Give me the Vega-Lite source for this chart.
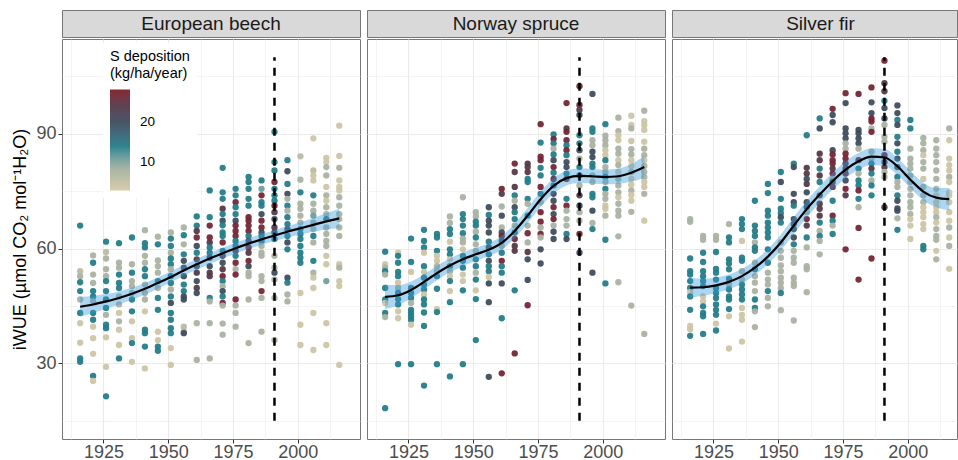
{
"$schema":"https://vega.github.io/schema/vega-lite/v6.json",
"background":"white",
"padding":{"left":11,"top":9,"right":0,"bottom":0},
"config":{
 "font":"Liberation Sans",
 "view":{"stroke":"#777777","strokeWidth":1},
 "axis":{"labelFont":"Liberation Sans","labelFontSize":18,"labelColor":"#4D4D4D","tickColor":"#333333","tickSize":4,"labelPadding":0,"domain":false,"gridColor":"#EBEBEB","titleFont":"Liberation Sans","titleFontSize":18,"titleFontWeight":"normal","titleColor":"#000000","labelOverlap":false,"labelFlush":false}
},
"datasets":{
"pts":[
{"p":"B","x":1916,"y":66,"s":14},{"p":"B","x":1916,"y":54.1,"s":6},{"p":"B","x":1916,"y":52.8,"s":8},{"p":"B","x":1916,"y":51.2,"s":14},{"p":"B","x":1916,"y":48.9,"s":14},{"p":"B","x":1916,"y":46.7,"s":8},{"p":"B","x":1916,"y":43.2,"s":14},{"p":"B","x":1916,"y":40.5,"s":4},{"p":"B","x":1916,"y":35.4,"s":4},{"p":"B","x":1916,"y":31.3,"s":14},{"p":"B","x":1916,"y":30.4,"s":14},
{"p":"B","x":1921,"y":58.2,"s":8},{"p":"B","x":1921,"y":56.3,"s":14},{"p":"B","x":1921,"y":53.2,"s":8},{"p":"B","x":1921,"y":51,"s":8},{"p":"B","x":1921,"y":48.9,"s":14},{"p":"B","x":1921,"y":47.5,"s":14},{"p":"B","x":1921,"y":46.2,"s":8},{"p":"B","x":1921,"y":43.2,"s":14},{"p":"B","x":1921,"y":41.4,"s":14},{"p":"B","x":1921,"y":39.6,"s":4},{"p":"B","x":1921,"y":36.6,"s":4},{"p":"B","x":1921,"y":32.5,"s":4},{"p":"B","x":1921,"y":26.7,"s":14},{"p":"B","x":1921,"y":25.4,"s":4},
{"p":"B","x":1926,"y":61.8,"s":14},{"p":"B","x":1926,"y":59.1,"s":6},{"p":"B","x":1926,"y":57.4,"s":8},{"p":"B","x":1926,"y":54.6,"s":8},{"p":"B","x":1926,"y":52.8,"s":8},{"p":"B","x":1926,"y":51.5,"s":14},{"p":"B","x":1926,"y":48.9,"s":14},{"p":"B","x":1926,"y":46.7,"s":14},{"p":"B","x":1926,"y":44.5,"s":14},{"p":"B","x":1926,"y":42.7,"s":8},{"p":"B","x":1926,"y":40.1,"s":14},{"p":"B","x":1926,"y":39.2,"s":14},{"p":"B","x":1926,"y":36.8,"s":4},{"p":"B","x":1926,"y":29.1,"s":4},{"p":"B","x":1926,"y":21.4,"s":14},
{"p":"B","x":1931,"y":61.4,"s":14},{"p":"B","x":1931,"y":56.3,"s":8},{"p":"B","x":1931,"y":55,"s":8},{"p":"B","x":1931,"y":53.2,"s":14},{"p":"B","x":1931,"y":51,"s":14},{"p":"B","x":1931,"y":49.7,"s":14},{"p":"B","x":1931,"y":47.5,"s":8},{"p":"B","x":1931,"y":45.4,"s":8},{"p":"B","x":1931,"y":43.2,"s":4},{"p":"B","x":1931,"y":41,"s":8},{"p":"B","x":1931,"y":38.8,"s":4},{"p":"B","x":1931,"y":34.8,"s":4},{"p":"B","x":1931,"y":31.3,"s":14},
{"p":"B","x":1936,"y":62.9,"s":14},{"p":"B","x":1936,"y":55.9,"s":8},{"p":"B","x":1936,"y":53.7,"s":14},{"p":"B","x":1936,"y":51.5,"s":8},{"p":"B","x":1936,"y":50.2,"s":8},{"p":"B","x":1936,"y":48.4,"s":8},{"p":"B","x":1936,"y":46.7,"s":14},{"p":"B","x":1936,"y":43.6,"s":14},{"p":"B","x":1936,"y":41,"s":4},{"p":"B","x":1936,"y":36.6,"s":4},{"p":"B","x":1936,"y":35.3,"s":14},{"p":"B","x":1936,"y":30.4,"s":4},
{"p":"B","x":1941,"y":64.8,"s":8},{"p":"B","x":1941,"y":61.4,"s":14},{"p":"B","x":1941,"y":60.3,"s":14},{"p":"B","x":1941,"y":58.1,"s":8},{"p":"B","x":1941,"y":56.3,"s":8},{"p":"B","x":1941,"y":54.6,"s":14},{"p":"B","x":1941,"y":52.8,"s":14},{"p":"B","x":1941,"y":50.6,"s":8},{"p":"B","x":1941,"y":48.4,"s":8},{"p":"B","x":1941,"y":46.7,"s":8},{"p":"B","x":1941,"y":43.6,"s":4},{"p":"B","x":1941,"y":38.8,"s":14},{"p":"B","x":1941,"y":37.9,"s":14},{"p":"B","x":1941,"y":34.4,"s":14},{"p":"B","x":1941,"y":28.7,"s":4},
{"p":"B","x":1946,"y":63.1,"s":8},{"p":"B","x":1946,"y":61.1,"s":14},{"p":"B","x":1946,"y":56.9,"s":8},{"p":"B","x":1946,"y":55.4,"s":8},{"p":"B","x":1946,"y":53.7,"s":8},{"p":"B","x":1946,"y":51.5,"s":14},{"p":"B","x":1946,"y":49.7,"s":8},{"p":"B","x":1946,"y":47.1,"s":14},{"p":"B","x":1946,"y":44,"s":14},{"p":"B","x":1946,"y":38.3,"s":4},{"p":"B","x":1946,"y":36.1,"s":4},{"p":"B","x":1946,"y":34.4,"s":14},{"p":"B","x":1946,"y":33.3,"s":14},
{"p":"B","x":1951,"y":64.2,"s":8},{"p":"B","x":1951,"y":62.6,"s":14},{"p":"B","x":1951,"y":60.7,"s":14},{"p":"B","x":1951,"y":58.9,"s":8},{"p":"B","x":1951,"y":57.4,"s":14},{"p":"B","x":1951,"y":55.9,"s":14},{"p":"B","x":1951,"y":54.6,"s":8},{"p":"B","x":1951,"y":52.8,"s":14},{"p":"B","x":1951,"y":51,"s":14},{"p":"B","x":1951,"y":49.3,"s":8},{"p":"B","x":1951,"y":47.5,"s":14},{"p":"B","x":1951,"y":45.8,"s":20},{"p":"B","x":1951,"y":43.2,"s":14},{"p":"B","x":1951,"y":41.4,"s":14},{"p":"B","x":1951,"y":39.2,"s":14},{"p":"B","x":1951,"y":37.9,"s":14},{"p":"B","x":1951,"y":34,"s":4},{"p":"B","x":1951,"y":29.6,"s":4},
{"p":"B","x":1956,"y":65.5,"s":8},{"p":"B","x":1956,"y":63.5,"s":14},{"p":"B","x":1956,"y":61.1,"s":8},{"p":"B","x":1956,"y":58.5,"s":14},{"p":"B","x":1956,"y":56.8,"s":20},{"p":"B","x":1956,"y":55,"s":20},{"p":"B","x":1956,"y":52.8,"s":20},{"p":"B","x":1956,"y":50.6,"s":14},{"p":"B","x":1956,"y":48.9,"s":14},{"p":"B","x":1956,"y":47.5,"s":20},{"p":"B","x":1956,"y":46.7,"s":20},{"p":"B","x":1956,"y":39.6,"s":6},{"p":"B","x":1956,"y":38.3,"s":8},{"p":"B","x":1956,"y":37.9,"s":20},
{"p":"B","x":1961,"y":68.4,"s":14},{"p":"B","x":1961,"y":66,"s":14},{"p":"B","x":1961,"y":64.6,"s":24},{"p":"B","x":1961,"y":62.9,"s":27},{"p":"B","x":1961,"y":60.7,"s":20},{"p":"B","x":1961,"y":58.9,"s":14},{"p":"B","x":1961,"y":57.2,"s":24},{"p":"B","x":1961,"y":55.4,"s":20},{"p":"B","x":1961,"y":53.7,"s":24},{"p":"B","x":1961,"y":51.5,"s":20},{"p":"B","x":1961,"y":49.7,"s":24},{"p":"B","x":1961,"y":48.4,"s":20},{"p":"B","x":1961,"y":40.5,"s":8},{"p":"B","x":1961,"y":30.9,"s":8},
{"p":"B","x":1966,"y":75.2,"s":14},{"p":"B","x":1966,"y":68.2,"s":14},{"p":"B","x":1966,"y":66,"s":27},{"p":"B","x":1966,"y":62.9,"s":27},{"p":"B","x":1966,"y":61.6,"s":24},{"p":"B","x":1966,"y":60.3,"s":14},{"p":"B","x":1966,"y":58.9,"s":14},{"p":"B","x":1966,"y":57.6,"s":20},{"p":"B","x":1966,"y":55.4,"s":20},{"p":"B","x":1966,"y":53.7,"s":24},{"p":"B","x":1966,"y":52.8,"s":24},{"p":"B","x":1966,"y":47.1,"s":14},{"p":"B","x":1966,"y":46.2,"s":8},{"p":"B","x":1966,"y":40.5,"s":8},{"p":"B","x":1966,"y":31.3,"s":8},
{"p":"B","x":1971,"y":81.1,"s":14},{"p":"B","x":1971,"y":74.7,"s":14},{"p":"B","x":1971,"y":73,"s":14},{"p":"B","x":1971,"y":70.4,"s":24},{"p":"B","x":1971,"y":69,"s":14},{"p":"B","x":1971,"y":67.3,"s":20},{"p":"B","x":1971,"y":66.1,"s":14},{"p":"B","x":1971,"y":64.2,"s":14},{"p":"B","x":1971,"y":63.3,"s":14},{"p":"B","x":1971,"y":61.6,"s":27},{"p":"B","x":1971,"y":59.4,"s":14},{"p":"B","x":1971,"y":58.1,"s":24},{"p":"B","x":1971,"y":56.3,"s":20},{"p":"B","x":1971,"y":54.6,"s":24},{"p":"B","x":1971,"y":52.8,"s":27},{"p":"B","x":1971,"y":51.5,"s":14},{"p":"B","x":1971,"y":50.2,"s":8},{"p":"B","x":1971,"y":48.9,"s":20},{"p":"B","x":1971,"y":47.5,"s":14},{"p":"B","x":1971,"y":45.8,"s":27},{"p":"B","x":1971,"y":45.1,"s":8},{"p":"B","x":1971,"y":40.4,"s":8},{"p":"B","x":1971,"y":37.5,"s":8},
{"p":"B","x":1976,"y":75.6,"s":14},{"p":"B","x":1976,"y":73.9,"s":14},{"p":"B","x":1976,"y":72.1,"s":27},{"p":"B","x":1976,"y":70.8,"s":14},{"p":"B","x":1976,"y":69,"s":14},{"p":"B","x":1976,"y":67.3,"s":20},{"p":"B","x":1976,"y":66,"s":27},{"p":"B","x":1976,"y":64.6,"s":27},{"p":"B","x":1976,"y":63.3,"s":27},{"p":"B","x":1976,"y":62,"s":14},{"p":"B","x":1976,"y":60.7,"s":14},{"p":"B","x":1976,"y":59.4,"s":24},{"p":"B","x":1976,"y":58.1,"s":14},{"p":"B","x":1976,"y":56.3,"s":27},{"p":"B","x":1976,"y":54.6,"s":8},{"p":"B","x":1976,"y":53.2,"s":27},{"p":"B","x":1976,"y":46.7,"s":27},{"p":"B","x":1976,"y":45.1,"s":8},{"p":"B","x":1976,"y":43.2,"s":8},{"p":"B","x":1976,"y":39.6,"s":8},
{"p":"B","x":1981,"y":78.7,"s":14},{"p":"B","x":1981,"y":77.4,"s":14},{"p":"B","x":1981,"y":75.6,"s":14},{"p":"B","x":1981,"y":73,"s":14},{"p":"B","x":1981,"y":71.2,"s":14},{"p":"B","x":1981,"y":68.2,"s":27},{"p":"B","x":1981,"y":67.3,"s":27},{"p":"B","x":1981,"y":66,"s":27},{"p":"B","x":1981,"y":64.6,"s":27},{"p":"B","x":1981,"y":63.3,"s":14},{"p":"B","x":1981,"y":62,"s":20},{"p":"B","x":1981,"y":60.3,"s":27},{"p":"B","x":1981,"y":58.9,"s":24},{"p":"B","x":1981,"y":56.8,"s":27},{"p":"B","x":1981,"y":55.4,"s":20},{"p":"B","x":1981,"y":53.7,"s":8},{"p":"B","x":1981,"y":52.8,"s":8},{"p":"B","x":1981,"y":46.7,"s":8},{"p":"B","x":1981,"y":35.3,"s":8},
{"p":"B","x":1986,"y":77.8,"s":14},{"p":"B","x":1986,"y":75.6,"s":11},{"p":"B","x":1986,"y":73.9,"s":27},{"p":"B","x":1986,"y":72.1,"s":14},{"p":"B","x":1986,"y":71.2,"s":14},{"p":"B","x":1986,"y":69,"s":20},{"p":"B","x":1986,"y":67.3,"s":27},{"p":"B","x":1986,"y":65.5,"s":27},{"p":"B","x":1986,"y":64.2,"s":20},{"p":"B","x":1986,"y":63.3,"s":14},{"p":"B","x":1986,"y":62,"s":14},{"p":"B","x":1986,"y":60.7,"s":8},{"p":"B","x":1986,"y":58.9,"s":8},{"p":"B","x":1986,"y":58.1,"s":8},{"p":"B","x":1986,"y":52.8,"s":8},{"p":"B","x":1986,"y":51.5,"s":8},{"p":"B","x":1986,"y":48.9,"s":27},{"p":"B","x":1986,"y":47.1,"s":8},{"p":"B","x":1986,"y":38.3,"s":8},
{"p":"B","x":1991,"y":90.5,"s":14},{"p":"B","x":1991,"y":82.6,"s":14},{"p":"B","x":1991,"y":80.4,"s":14},{"p":"B","x":1991,"y":77.4,"s":27},{"p":"B","x":1991,"y":75.6,"s":14},{"p":"B","x":1991,"y":73.9,"s":14},{"p":"B","x":1991,"y":72.5,"s":14},{"p":"B","x":1991,"y":71.2,"s":27},{"p":"B","x":1991,"y":69.5,"s":24},{"p":"B","x":1991,"y":67.7,"s":20},{"p":"B","x":1991,"y":65.5,"s":24},{"p":"B","x":1991,"y":64.2,"s":20},{"p":"B","x":1991,"y":62.5,"s":14},{"p":"B","x":1991,"y":58.1,"s":8},{"p":"B","x":1991,"y":55,"s":8},{"p":"B","x":1991,"y":53.7,"s":20},{"p":"B","x":1991,"y":51.9,"s":8},{"p":"B","x":1991,"y":47.1,"s":8},{"p":"B","x":1991,"y":36.1,"s":8},
{"p":"B","x":1996,"y":83.1,"s":14},{"p":"B","x":1996,"y":80.2,"s":20},{"p":"B","x":1996,"y":76.9,"s":14},{"p":"B","x":1996,"y":74.3,"s":20},{"p":"B","x":1996,"y":73,"s":8},{"p":"B","x":1996,"y":71.2,"s":14},{"p":"B","x":1996,"y":69.9,"s":8},{"p":"B","x":1996,"y":68.2,"s":14},{"p":"B","x":1996,"y":66.4,"s":14},{"p":"B","x":1996,"y":65.1,"s":20},{"p":"B","x":1996,"y":63.3,"s":14},{"p":"B","x":1996,"y":61.6,"s":20},{"p":"B","x":1996,"y":59.8,"s":14},{"p":"B","x":1996,"y":52.4,"s":20},{"p":"B","x":1996,"y":51.1,"s":14},{"p":"B","x":1996,"y":48,"s":8},{"p":"B","x":1996,"y":46.2,"s":8},
{"p":"B","x":2001,"y":84.1,"s":6},{"p":"B","x":2001,"y":78,"s":8},{"p":"B","x":2001,"y":74.7,"s":14},{"p":"B","x":2001,"y":71.7,"s":8},{"p":"B","x":2001,"y":70.4,"s":8},{"p":"B","x":2001,"y":68.6,"s":8},{"p":"B","x":2001,"y":66.8,"s":8},{"p":"B","x":2001,"y":65.1,"s":14},{"p":"B","x":2001,"y":63.8,"s":14},{"p":"B","x":2001,"y":62.5,"s":14},{"p":"B","x":2001,"y":60.7,"s":14},{"p":"B","x":2001,"y":58.9,"s":14},{"p":"B","x":2001,"y":57.6,"s":14},{"p":"B","x":2001,"y":56.3,"s":14},{"p":"B","x":2001,"y":48.4,"s":4},{"p":"B","x":2001,"y":40.1,"s":4},{"p":"B","x":2001,"y":34.8,"s":4},
{"p":"B","x":2006,"y":88.8,"s":4},{"p":"B","x":2006,"y":80.4,"s":6},{"p":"B","x":2006,"y":79.1,"s":4},{"p":"B","x":2006,"y":77.8,"s":4},{"p":"B","x":2006,"y":73.9,"s":14},{"p":"B","x":2006,"y":71.7,"s":8},{"p":"B","x":2006,"y":69.9,"s":8},{"p":"B","x":2006,"y":68.6,"s":11},{"p":"B","x":2006,"y":66.8,"s":8},{"p":"B","x":2006,"y":65.1,"s":8},{"p":"B","x":2006,"y":63.3,"s":14},{"p":"B","x":2006,"y":61.6,"s":8},{"p":"B","x":2006,"y":56.8,"s":14},{"p":"B","x":2006,"y":53.7,"s":8},{"p":"B","x":2006,"y":52.4,"s":4},{"p":"B","x":2006,"y":49.7,"s":4},{"p":"B","x":2006,"y":43.2,"s":4},{"p":"B","x":2006,"y":33.5,"s":4},
{"p":"B","x":2011,"y":83.7,"s":4},{"p":"B","x":2011,"y":82.6,"s":4},{"p":"B","x":2011,"y":81.3,"s":8},{"p":"B","x":2011,"y":79.1,"s":8},{"p":"B","x":2011,"y":76.1,"s":4},{"p":"B","x":2011,"y":73.9,"s":8},{"p":"B","x":2011,"y":72.5,"s":4},{"p":"B","x":2011,"y":70.8,"s":8},{"p":"B","x":2011,"y":69,"s":8},{"p":"B","x":2011,"y":67.7,"s":14},{"p":"B","x":2011,"y":65.5,"s":8},{"p":"B","x":2011,"y":63.8,"s":8},{"p":"B","x":2011,"y":62,"s":8},{"p":"B","x":2011,"y":60.7,"s":8},{"p":"B","x":2011,"y":58.1,"s":4},{"p":"B","x":2011,"y":55.9,"s":4},{"p":"B","x":2011,"y":51.5,"s":11},{"p":"B","x":2011,"y":40.5,"s":4},{"p":"B","x":2011,"y":34.8,"s":4},
{"p":"B","x":2016,"y":92.1,"s":4},{"p":"B","x":2016,"y":84.2,"s":4},{"p":"B","x":2016,"y":81.1,"s":8},{"p":"B","x":2016,"y":77.8,"s":4},{"p":"B","x":2016,"y":76.1,"s":4},{"p":"B","x":2016,"y":75.2,"s":4},{"p":"B","x":2016,"y":73.4,"s":8},{"p":"B","x":2016,"y":71.2,"s":8},{"p":"B","x":2016,"y":69,"s":8},{"p":"B","x":2016,"y":67.7,"s":8},{"p":"B","x":2016,"y":65.5,"s":8},{"p":"B","x":2016,"y":63.3,"s":8},{"p":"B","x":2016,"y":55.9,"s":4},{"p":"B","x":2016,"y":55,"s":8},{"p":"B","x":2016,"y":51.5,"s":4},{"p":"B","x":2016,"y":50.2,"s":4},{"p":"B","x":2016,"y":29.6,"s":4},
{"p":"N","x":1916,"y":59.2,"s":14},{"p":"N","x":1916,"y":55.9,"s":4},{"p":"N","x":1916,"y":55,"s":8},{"p":"N","x":1916,"y":54.1,"s":14},{"p":"N","x":1916,"y":53.2,"s":8},{"p":"N","x":1916,"y":49.7,"s":14},{"p":"N","x":1916,"y":46.7,"s":14},{"p":"N","x":1916,"y":45.8,"s":4},{"p":"N","x":1916,"y":43.2,"s":14},{"p":"N","x":1916,"y":42.1,"s":8},{"p":"N","x":1916,"y":18.3,"s":14},
{"p":"N","x":1921,"y":58.9,"s":4},{"p":"N","x":1921,"y":58.1,"s":14},{"p":"N","x":1921,"y":56.3,"s":14},{"p":"N","x":1921,"y":53.9,"s":14},{"p":"N","x":1921,"y":52.8,"s":14},{"p":"N","x":1921,"y":51.1,"s":4},{"p":"N","x":1921,"y":49.7,"s":8},{"p":"N","x":1921,"y":48.4,"s":14},{"p":"N","x":1921,"y":46.8,"s":14},{"p":"N","x":1921,"y":45.4,"s":14},{"p":"N","x":1921,"y":43.6,"s":4},{"p":"N","x":1921,"y":41.8,"s":4},{"p":"N","x":1921,"y":29.8,"s":14},
{"p":"N","x":1926,"y":62.6,"s":14},{"p":"N","x":1926,"y":56.5,"s":14},{"p":"N","x":1926,"y":53.9,"s":4},{"p":"N","x":1926,"y":49.7,"s":14},{"p":"N","x":1926,"y":48.4,"s":14},{"p":"N","x":1926,"y":47.1,"s":14},{"p":"N","x":1926,"y":45.8,"s":8},{"p":"N","x":1926,"y":44,"s":14},{"p":"N","x":1926,"y":43.2,"s":14},{"p":"N","x":1926,"y":42.3,"s":14},{"p":"N","x":1926,"y":41.4,"s":14},{"p":"N","x":1926,"y":40.1,"s":4},{"p":"N","x":1926,"y":29.8,"s":14},
{"p":"N","x":1931,"y":64.9,"s":14},{"p":"N","x":1931,"y":62,"s":14},{"p":"N","x":1931,"y":60.3,"s":14},{"p":"N","x":1931,"y":58.9,"s":4},{"p":"N","x":1931,"y":55.4,"s":14},{"p":"N","x":1931,"y":53.9,"s":4},{"p":"N","x":1931,"y":52.4,"s":14},{"p":"N","x":1931,"y":50.6,"s":14},{"p":"N","x":1931,"y":49.3,"s":14},{"p":"N","x":1931,"y":48,"s":4},{"p":"N","x":1931,"y":46.7,"s":14},{"p":"N","x":1931,"y":45.4,"s":14},{"p":"N","x":1931,"y":43.3,"s":14},{"p":"N","x":1931,"y":39.8,"s":14},{"p":"N","x":1931,"y":24.2,"s":14},
{"p":"N","x":1936,"y":63.8,"s":14},{"p":"N","x":1936,"y":62.9,"s":14},{"p":"N","x":1936,"y":59.4,"s":14},{"p":"N","x":1936,"y":58.1,"s":4},{"p":"N","x":1936,"y":56.8,"s":4},{"p":"N","x":1936,"y":55.4,"s":8},{"p":"N","x":1936,"y":54.1,"s":8},{"p":"N","x":1936,"y":52.8,"s":14},{"p":"N","x":1936,"y":49.5,"s":14},{"p":"N","x":1936,"y":44.2,"s":4},{"p":"N","x":1936,"y":43.4,"s":14},{"p":"N","x":1936,"y":29.8,"s":14},
{"p":"N","x":1941,"y":68.4,"s":8},{"p":"N","x":1941,"y":66.7,"s":8},{"p":"N","x":1941,"y":65.1,"s":14},{"p":"N","x":1941,"y":63.8,"s":14},{"p":"N","x":1941,"y":61.8,"s":4},{"p":"N","x":1941,"y":59.8,"s":14},{"p":"N","x":1941,"y":58.5,"s":14},{"p":"N","x":1941,"y":57.2,"s":4},{"p":"N","x":1941,"y":55.4,"s":14},{"p":"N","x":1941,"y":54.1,"s":8},{"p":"N","x":1941,"y":52.8,"s":4},{"p":"N","x":1941,"y":51.5,"s":14},{"p":"N","x":1941,"y":48.9,"s":4},{"p":"N","x":1941,"y":46,"s":14},{"p":"N","x":1941,"y":26.6,"s":14},
{"p":"N","x":1946,"y":73.4,"s":8},{"p":"N","x":1946,"y":69,"s":14},{"p":"N","x":1946,"y":67.7,"s":14},{"p":"N","x":1946,"y":66,"s":14},{"p":"N","x":1946,"y":64,"s":14},{"p":"N","x":1946,"y":62.6,"s":8},{"p":"N","x":1946,"y":61.6,"s":8},{"p":"N","x":1946,"y":59.8,"s":4},{"p":"N","x":1946,"y":58.1,"s":14},{"p":"N","x":1946,"y":56.8,"s":14},{"p":"N","x":1946,"y":55,"s":14},{"p":"N","x":1946,"y":53.2,"s":4},{"p":"N","x":1946,"y":51.5,"s":4},{"p":"N","x":1946,"y":49.1,"s":14},{"p":"N","x":1946,"y":29.8,"s":14},
{"p":"N","x":1951,"y":69.5,"s":8},{"p":"N","x":1951,"y":68.4,"s":8},{"p":"N","x":1951,"y":67,"s":14},{"p":"N","x":1951,"y":66,"s":14},{"p":"N","x":1951,"y":64.4,"s":8},{"p":"N","x":1951,"y":62.9,"s":14},{"p":"N","x":1951,"y":61.1,"s":8},{"p":"N","x":1951,"y":59.4,"s":8},{"p":"N","x":1951,"y":57.2,"s":14},{"p":"N","x":1951,"y":55.4,"s":14},{"p":"N","x":1951,"y":53.7,"s":8},{"p":"N","x":1951,"y":51.9,"s":14},{"p":"N","x":1951,"y":49.1,"s":4},{"p":"N","x":1951,"y":46.8,"s":14},{"p":"N","x":1951,"y":36.1,"s":14},
{"p":"N","x":1956,"y":70.8,"s":20},{"p":"N","x":1956,"y":68.8,"s":14},{"p":"N","x":1956,"y":67.3,"s":20},{"p":"N","x":1956,"y":66,"s":20},{"p":"N","x":1956,"y":64.2,"s":20},{"p":"N","x":1956,"y":61.8,"s":14},{"p":"N","x":1956,"y":60.3,"s":20},{"p":"N","x":1956,"y":58.5,"s":14},{"p":"N","x":1956,"y":56.8,"s":20},{"p":"N","x":1956,"y":55.4,"s":14},{"p":"N","x":1956,"y":54.1,"s":14},{"p":"N","x":1956,"y":52.6,"s":4},{"p":"N","x":1956,"y":50.9,"s":20},{"p":"N","x":1956,"y":46,"s":20},{"p":"N","x":1956,"y":26.5,"s":20},
{"p":"N","x":1961,"y":75.6,"s":27},{"p":"N","x":1961,"y":74.3,"s":24},{"p":"N","x":1961,"y":71,"s":8},{"p":"N","x":1961,"y":68.6,"s":20},{"p":"N","x":1961,"y":65.5,"s":8},{"p":"N","x":1961,"y":64.2,"s":20},{"p":"N","x":1961,"y":63.3,"s":27},{"p":"N","x":1961,"y":62,"s":20},{"p":"N","x":1961,"y":60.7,"s":8},{"p":"N","x":1961,"y":58.9,"s":14},{"p":"N","x":1961,"y":56.8,"s":27},{"p":"N","x":1961,"y":55.4,"s":14},{"p":"N","x":1961,"y":53.7,"s":14},{"p":"N","x":1961,"y":50.9,"s":20},{"p":"N","x":1961,"y":41.8,"s":14},{"p":"N","x":1961,"y":27.4,"s":27},
{"p":"N","x":1966,"y":82.2,"s":27},{"p":"N","x":1966,"y":80,"s":24},{"p":"N","x":1966,"y":76.1,"s":24},{"p":"N","x":1966,"y":73.9,"s":14},{"p":"N","x":1966,"y":72.5,"s":8},{"p":"N","x":1966,"y":70.8,"s":20},{"p":"N","x":1966,"y":69.5,"s":14},{"p":"N","x":1966,"y":67.7,"s":14},{"p":"N","x":1966,"y":66,"s":8},{"p":"N","x":1966,"y":64.2,"s":14},{"p":"N","x":1966,"y":62.5,"s":27},{"p":"N","x":1966,"y":60.7,"s":24},{"p":"N","x":1966,"y":59.4,"s":24},{"p":"N","x":1966,"y":49.1,"s":14},{"p":"N","x":1966,"y":32.6,"s":27},
{"p":"N","x":1971,"y":82.2,"s":24},{"p":"N","x":1971,"y":81.3,"s":24},{"p":"N","x":1971,"y":80,"s":24},{"p":"N","x":1971,"y":78.2,"s":14},{"p":"N","x":1971,"y":77.4,"s":14},{"p":"N","x":1971,"y":73,"s":14},{"p":"N","x":1971,"y":71.7,"s":8},{"p":"N","x":1971,"y":68.6,"s":14},{"p":"N","x":1971,"y":66,"s":8},{"p":"N","x":1971,"y":64,"s":27},{"p":"N","x":1971,"y":61.6,"s":8},{"p":"N","x":1971,"y":59.1,"s":24},{"p":"N","x":1971,"y":57.2,"s":20},{"p":"N","x":1971,"y":51.8,"s":20},{"p":"N","x":1971,"y":45.2,"s":27},
{"p":"N","x":1976,"y":92.5,"s":27},{"p":"N","x":1976,"y":87.7,"s":14},{"p":"N","x":1976,"y":84,"s":27},{"p":"N","x":1976,"y":83.1,"s":27},{"p":"N","x":1976,"y":81.1,"s":14},{"p":"N","x":1976,"y":79.1,"s":14},{"p":"N","x":1976,"y":76.1,"s":27},{"p":"N","x":1976,"y":74.3,"s":14},{"p":"N","x":1976,"y":72.1,"s":8},{"p":"N","x":1976,"y":69.5,"s":27},{"p":"N","x":1976,"y":67,"s":27},{"p":"N","x":1976,"y":65.5,"s":8},{"p":"N","x":1976,"y":63.8,"s":27},{"p":"N","x":1976,"y":62.9,"s":8},{"p":"N","x":1976,"y":59.8,"s":20},{"p":"N","x":1976,"y":56.1,"s":20},
{"p":"N","x":1981,"y":89.8,"s":14},{"p":"N","x":1981,"y":88.6,"s":27},{"p":"N","x":1981,"y":87.5,"s":14},{"p":"N","x":1981,"y":86.1,"s":8},{"p":"N","x":1981,"y":84.6,"s":14},{"p":"N","x":1981,"y":83.1,"s":20},{"p":"N","x":1981,"y":81.3,"s":27},{"p":"N","x":1981,"y":79.8,"s":14},{"p":"N","x":1981,"y":78.2,"s":24},{"p":"N","x":1981,"y":76.5,"s":14},{"p":"N","x":1981,"y":74.3,"s":20},{"p":"N","x":1981,"y":72.5,"s":20},{"p":"N","x":1981,"y":70.8,"s":27},{"p":"N","x":1981,"y":69,"s":20},{"p":"N","x":1981,"y":67.7,"s":27},{"p":"N","x":1981,"y":66,"s":8},{"p":"N","x":1981,"y":64.4,"s":20},{"p":"N","x":1981,"y":62.5,"s":20},
{"p":"N","x":1986,"y":98,"s":27},{"p":"N","x":1986,"y":91.4,"s":24},{"p":"N","x":1986,"y":90.5,"s":27},{"p":"N","x":1986,"y":88.3,"s":27},{"p":"N","x":1986,"y":87,"s":14},{"p":"N","x":1986,"y":85.7,"s":27},{"p":"N","x":1986,"y":84.4,"s":14},{"p":"N","x":1986,"y":82.6,"s":20},{"p":"N","x":1986,"y":81.3,"s":20},{"p":"N","x":1986,"y":79.6,"s":14},{"p":"N","x":1986,"y":78.2,"s":24},{"p":"N","x":1986,"y":73,"s":14},{"p":"N","x":1986,"y":71.2,"s":27},{"p":"N","x":1986,"y":69.9,"s":8},{"p":"N","x":1986,"y":67.7,"s":8},{"p":"N","x":1986,"y":66,"s":8},{"p":"N","x":1986,"y":63.8,"s":14},{"p":"N","x":1986,"y":62.5,"s":20},
{"p":"N","x":1991,"y":102.4,"s":27},{"p":"N","x":1991,"y":97.5,"s":27},{"p":"N","x":1991,"y":96.2,"s":24},{"p":"N","x":1991,"y":94.9,"s":20},{"p":"N","x":1991,"y":89.6,"s":14},{"p":"N","x":1991,"y":87.5,"s":14},{"p":"N","x":1991,"y":85.7,"s":20},{"p":"N","x":1991,"y":83.5,"s":8},{"p":"N","x":1991,"y":81.3,"s":14},{"p":"N","x":1991,"y":79.1,"s":14},{"p":"N","x":1991,"y":76.5,"s":8},{"p":"N","x":1991,"y":73.9,"s":24},{"p":"N","x":1991,"y":71.2,"s":20},{"p":"N","x":1991,"y":69.5,"s":8},{"p":"N","x":1991,"y":67.3,"s":8},{"p":"N","x":1991,"y":63.8,"s":27},{"p":"N","x":1991,"y":58.9,"s":20},
{"p":"N","x":1996,"y":100.4,"s":20},{"p":"N","x":1996,"y":91.4,"s":14},{"p":"N","x":1996,"y":90.5,"s":14},{"p":"N","x":1996,"y":88.3,"s":8},{"p":"N","x":1996,"y":87,"s":8},{"p":"N","x":1996,"y":85.3,"s":20},{"p":"N","x":1996,"y":83.9,"s":20},{"p":"N","x":1996,"y":82.2,"s":14},{"p":"N","x":1996,"y":81.3,"s":14},{"p":"N","x":1996,"y":79.1,"s":8},{"p":"N","x":1996,"y":77.4,"s":8},{"p":"N","x":1996,"y":74.3,"s":14},{"p":"N","x":1996,"y":73.4,"s":14},{"p":"N","x":1996,"y":69.9,"s":20},{"p":"N","x":1996,"y":66.7,"s":8},{"p":"N","x":1996,"y":65.1,"s":14},{"p":"N","x":1996,"y":53.7,"s":20},
{"p":"N","x":2001,"y":92.5,"s":14},{"p":"N","x":2001,"y":89.5,"s":8},{"p":"N","x":2001,"y":88.3,"s":8},{"p":"N","x":2001,"y":87,"s":8},{"p":"N","x":2001,"y":85.7,"s":4},{"p":"N","x":2001,"y":84.4,"s":4},{"p":"N","x":2001,"y":83.1,"s":14},{"p":"N","x":2001,"y":81.3,"s":8},{"p":"N","x":2001,"y":80,"s":8},{"p":"N","x":2001,"y":78.7,"s":14},{"p":"N","x":2001,"y":77.4,"s":8},{"p":"N","x":2001,"y":75.6,"s":14},{"p":"N","x":2001,"y":74.3,"s":8},{"p":"N","x":2001,"y":73,"s":8},{"p":"N","x":2001,"y":71.2,"s":4},{"p":"N","x":2001,"y":70.4,"s":4},{"p":"N","x":2001,"y":68.6,"s":8},{"p":"N","x":2001,"y":62.3,"s":14},{"p":"N","x":2001,"y":50.9,"s":14},
{"p":"N","x":2006,"y":94.2,"s":8},{"p":"N","x":2006,"y":90.7,"s":8},{"p":"N","x":2006,"y":89.6,"s":4},{"p":"N","x":2006,"y":88.3,"s":4},{"p":"N","x":2006,"y":86.1,"s":8},{"p":"N","x":2006,"y":84.8,"s":8},{"p":"N","x":2006,"y":83.1,"s":4},{"p":"N","x":2006,"y":81.8,"s":8},{"p":"N","x":2006,"y":80,"s":4},{"p":"N","x":2006,"y":78.2,"s":8},{"p":"N","x":2006,"y":76.5,"s":8},{"p":"N","x":2006,"y":74.7,"s":8},{"p":"N","x":2006,"y":73.4,"s":4},{"p":"N","x":2006,"y":71.7,"s":8},{"p":"N","x":2006,"y":69.9,"s":8},{"p":"N","x":2006,"y":68.6,"s":8},{"p":"N","x":2006,"y":63.2,"s":8},{"p":"N","x":2006,"y":51.2,"s":8},
{"p":"N","x":2011,"y":94.7,"s":4},{"p":"N","x":2011,"y":92.3,"s":4},{"p":"N","x":2011,"y":91.4,"s":8},{"p":"N","x":2011,"y":88.1,"s":4},{"p":"N","x":2011,"y":86,"s":8},{"p":"N","x":2011,"y":84.6,"s":8},{"p":"N","x":2011,"y":83.1,"s":4},{"p":"N","x":2011,"y":81.6,"s":4},{"p":"N","x":2011,"y":80,"s":8},{"p":"N","x":2011,"y":78.2,"s":4},{"p":"N","x":2011,"y":76.7,"s":4},{"p":"N","x":2011,"y":75.2,"s":8},{"p":"N","x":2011,"y":74,"s":4},{"p":"N","x":2011,"y":72.5,"s":4},{"p":"N","x":2011,"y":69.6,"s":8},{"p":"N","x":2011,"y":45.1,"s":8},
{"p":"N","x":2016,"y":96,"s":8},{"p":"N","x":2016,"y":93.3,"s":4},{"p":"N","x":2016,"y":92.3,"s":4},{"p":"N","x":2016,"y":91,"s":4},{"p":"N","x":2016,"y":87.9,"s":4},{"p":"N","x":2016,"y":86.1,"s":8},{"p":"N","x":2016,"y":84.4,"s":8},{"p":"N","x":2016,"y":83.1,"s":4},{"p":"N","x":2016,"y":81.6,"s":8},{"p":"N","x":2016,"y":80,"s":8},{"p":"N","x":2016,"y":78.7,"s":8},{"p":"N","x":2016,"y":77.4,"s":4},{"p":"N","x":2016,"y":76.1,"s":4},{"p":"N","x":2016,"y":74.3,"s":8},{"p":"N","x":2016,"y":67.3,"s":4},{"p":"N","x":2016,"y":37.7,"s":8},
{"p":"S","x":1916,"y":67.7,"s":8},{"p":"S","x":1916,"y":67,"s":8},{"p":"S","x":1916,"y":57.4,"s":14},{"p":"S","x":1916,"y":54.1,"s":14},{"p":"S","x":1916,"y":53.2,"s":14},{"p":"S","x":1916,"y":51.5,"s":14},{"p":"S","x":1916,"y":49.7,"s":14},{"p":"S","x":1916,"y":48.6,"s":4},{"p":"S","x":1916,"y":47.5,"s":14},{"p":"S","x":1916,"y":44,"s":14},{"p":"S","x":1916,"y":39.8,"s":4},{"p":"S","x":1916,"y":38.9,"s":4},{"p":"S","x":1916,"y":37.2,"s":14},
{"p":"S","x":1921,"y":63.3,"s":8},{"p":"S","x":1921,"y":62.3,"s":8},{"p":"S","x":1921,"y":58.9,"s":14},{"p":"S","x":1921,"y":56.5,"s":14},{"p":"S","x":1921,"y":54.1,"s":14},{"p":"S","x":1921,"y":52.8,"s":14},{"p":"S","x":1921,"y":51.5,"s":14},{"p":"S","x":1921,"y":50.2,"s":14},{"p":"S","x":1921,"y":47.5,"s":4},{"p":"S","x":1921,"y":46.2,"s":4},{"p":"S","x":1921,"y":44.9,"s":14},{"p":"S","x":1921,"y":43.2,"s":14},{"p":"S","x":1921,"y":42.3,"s":14},{"p":"S","x":1921,"y":37.7,"s":14},
{"p":"S","x":1926,"y":63.3,"s":8},{"p":"S","x":1926,"y":62.3,"s":8},{"p":"S","x":1926,"y":59.1,"s":14},{"p":"S","x":1926,"y":54.7,"s":14},{"p":"S","x":1926,"y":53.7,"s":14},{"p":"S","x":1926,"y":51.9,"s":14},{"p":"S","x":1926,"y":49.7,"s":14},{"p":"S","x":1926,"y":48.4,"s":14},{"p":"S","x":1926,"y":47.1,"s":14},{"p":"S","x":1926,"y":45.4,"s":14},{"p":"S","x":1926,"y":44,"s":14},{"p":"S","x":1926,"y":42.7,"s":14},{"p":"S","x":1926,"y":40.4,"s":4},{"p":"S","x":1926,"y":38.6,"s":14},
{"p":"S","x":1931,"y":66.4,"s":8},{"p":"S","x":1931,"y":62.9,"s":14},{"p":"S","x":1931,"y":61.6,"s":14},{"p":"S","x":1931,"y":57.2,"s":14},{"p":"S","x":1931,"y":56.1,"s":14},{"p":"S","x":1931,"y":54.6,"s":14},{"p":"S","x":1931,"y":52.1,"s":14},{"p":"S","x":1931,"y":50.6,"s":8},{"p":"S","x":1931,"y":49.3,"s":14},{"p":"S","x":1931,"y":47.5,"s":14},{"p":"S","x":1931,"y":46.7,"s":14},{"p":"S","x":1931,"y":44.2,"s":14},{"p":"S","x":1931,"y":42.3,"s":4},{"p":"S","x":1931,"y":33.9,"s":4},
{"p":"S","x":1936,"y":67.7,"s":14},{"p":"S","x":1936,"y":66.4,"s":14},{"p":"S","x":1936,"y":65.1,"s":14},{"p":"S","x":1936,"y":62,"s":4},{"p":"S","x":1936,"y":57.6,"s":14},{"p":"S","x":1936,"y":56.8,"s":14},{"p":"S","x":1936,"y":54.1,"s":8},{"p":"S","x":1936,"y":51.9,"s":8},{"p":"S","x":1936,"y":50.6,"s":14},{"p":"S","x":1936,"y":49.3,"s":14},{"p":"S","x":1936,"y":48,"s":14},{"p":"S","x":1936,"y":46.7,"s":14},{"p":"S","x":1936,"y":44.5,"s":4},{"p":"S","x":1936,"y":42.7,"s":4},{"p":"S","x":1936,"y":41.4,"s":4},{"p":"S","x":1936,"y":35.7,"s":4},
{"p":"S","x":1941,"y":72.5,"s":14},{"p":"S","x":1941,"y":66,"s":14},{"p":"S","x":1941,"y":64.6,"s":14},{"p":"S","x":1941,"y":63.3,"s":14},{"p":"S","x":1941,"y":61.6,"s":8},{"p":"S","x":1941,"y":60.3,"s":14},{"p":"S","x":1941,"y":59.4,"s":14},{"p":"S","x":1941,"y":56.3,"s":8},{"p":"S","x":1941,"y":54.6,"s":14},{"p":"S","x":1941,"y":52.8,"s":8},{"p":"S","x":1941,"y":51.1,"s":8},{"p":"S","x":1941,"y":48.9,"s":8},{"p":"S","x":1941,"y":46.7,"s":14},{"p":"S","x":1941,"y":44.5,"s":14},{"p":"S","x":1941,"y":43.6,"s":8},{"p":"S","x":1941,"y":39.5,"s":8},
{"p":"S","x":1946,"y":76.9,"s":14},{"p":"S","x":1946,"y":74.5,"s":14},{"p":"S","x":1946,"y":69.9,"s":14},{"p":"S","x":1946,"y":68.6,"s":14},{"p":"S","x":1946,"y":66.8,"s":14},{"p":"S","x":1946,"y":65.5,"s":14},{"p":"S","x":1946,"y":64.2,"s":14},{"p":"S","x":1946,"y":62.9,"s":14},{"p":"S","x":1946,"y":59.8,"s":14},{"p":"S","x":1946,"y":56.3,"s":14},{"p":"S","x":1946,"y":53.7,"s":8},{"p":"S","x":1946,"y":51.9,"s":8},{"p":"S","x":1946,"y":50.6,"s":8},{"p":"S","x":1946,"y":48.9,"s":14},{"p":"S","x":1946,"y":47.1,"s":8},{"p":"S","x":1946,"y":44.9,"s":8},
{"p":"S","x":1951,"y":80,"s":14},{"p":"S","x":1951,"y":77.4,"s":20},{"p":"S","x":1951,"y":73,"s":14},{"p":"S","x":1951,"y":70.4,"s":14},{"p":"S","x":1951,"y":69.3,"s":14},{"p":"S","x":1951,"y":68.2,"s":20},{"p":"S","x":1951,"y":66.8,"s":14},{"p":"S","x":1951,"y":61.6,"s":8},{"p":"S","x":1951,"y":59.4,"s":8},{"p":"S","x":1951,"y":57.6,"s":8},{"p":"S","x":1951,"y":55.6,"s":8},{"p":"S","x":1951,"y":54.1,"s":8},{"p":"S","x":1951,"y":52.4,"s":8},{"p":"S","x":1951,"y":51.1,"s":8},{"p":"S","x":1951,"y":49.7,"s":8},{"p":"S","x":1951,"y":48.4,"s":14},{"p":"S","x":1951,"y":43.9,"s":8},
{"p":"S","x":1956,"y":82.2,"s":14},{"p":"S","x":1956,"y":81.3,"s":20},{"p":"S","x":1956,"y":74.3,"s":20},{"p":"S","x":1956,"y":72.1,"s":20},{"p":"S","x":1956,"y":71.2,"s":14},{"p":"S","x":1956,"y":67.7,"s":20},{"p":"S","x":1956,"y":66.4,"s":20},{"p":"S","x":1956,"y":65.1,"s":20},{"p":"S","x":1956,"y":62.9,"s":20},{"p":"S","x":1956,"y":61.1,"s":14},{"p":"S","x":1956,"y":59.4,"s":8},{"p":"S","x":1956,"y":57.6,"s":8},{"p":"S","x":1956,"y":56.3,"s":8},{"p":"S","x":1956,"y":52.4,"s":8},{"p":"S","x":1956,"y":51.1,"s":8},{"p":"S","x":1956,"y":50.2,"s":8},{"p":"S","x":1956,"y":41.2,"s":8},
{"p":"S","x":1961,"y":89.6,"s":14},{"p":"S","x":1961,"y":81.1,"s":24},{"p":"S","x":1961,"y":79.6,"s":24},{"p":"S","x":1961,"y":78.2,"s":20},{"p":"S","x":1961,"y":76.9,"s":24},{"p":"S","x":1961,"y":74.7,"s":20},{"p":"S","x":1961,"y":72.1,"s":20},{"p":"S","x":1961,"y":70.8,"s":20},{"p":"S","x":1961,"y":69.5,"s":8},{"p":"S","x":1961,"y":67.7,"s":27},{"p":"S","x":1961,"y":66,"s":24},{"p":"S","x":1961,"y":62.9,"s":14},{"p":"S","x":1961,"y":60.3,"s":8},{"p":"S","x":1961,"y":55.4,"s":8},{"p":"S","x":1961,"y":54.6,"s":8},{"p":"S","x":1961,"y":48.6,"s":8},
{"p":"S","x":1966,"y":94,"s":14},{"p":"S","x":1966,"y":91.4,"s":20},{"p":"S","x":1966,"y":84.8,"s":24},{"p":"S","x":1966,"y":83.1,"s":24},{"p":"S","x":1966,"y":80.9,"s":14},{"p":"S","x":1966,"y":79.1,"s":24},{"p":"S","x":1966,"y":77.4,"s":14},{"p":"S","x":1966,"y":73.9,"s":20},{"p":"S","x":1966,"y":71.7,"s":24},{"p":"S","x":1966,"y":70.4,"s":24},{"p":"S","x":1966,"y":68.6,"s":24},{"p":"S","x":1966,"y":66.8,"s":14},{"p":"S","x":1966,"y":64.6,"s":8},{"p":"S","x":1966,"y":63.3,"s":14},{"p":"S","x":1966,"y":62,"s":8},{"p":"S","x":1966,"y":58.5,"s":8},
{"p":"S","x":1971,"y":96.5,"s":27},{"p":"S","x":1971,"y":94.9,"s":20},{"p":"S","x":1971,"y":93,"s":20},{"p":"S","x":1971,"y":85.7,"s":20},{"p":"S","x":1971,"y":84.6,"s":27},{"p":"S","x":1971,"y":83.1,"s":27},{"p":"S","x":1971,"y":82.2,"s":27},{"p":"S","x":1971,"y":80.9,"s":24},{"p":"S","x":1971,"y":79.6,"s":27},{"p":"S","x":1971,"y":78.2,"s":8},{"p":"S","x":1971,"y":77.4,"s":20},{"p":"S","x":1971,"y":76.1,"s":27},{"p":"S","x":1971,"y":72.5,"s":14},{"p":"S","x":1971,"y":68.6,"s":27},{"p":"S","x":1971,"y":67.3,"s":14},{"p":"S","x":1971,"y":66,"s":8},{"p":"S","x":1971,"y":63.8,"s":14},
{"p":"S","x":1976,"y":100.6,"s":27},{"p":"S","x":1976,"y":98,"s":20},{"p":"S","x":1976,"y":91.4,"s":20},{"p":"S","x":1976,"y":90.1,"s":20},{"p":"S","x":1976,"y":88.8,"s":20},{"p":"S","x":1976,"y":87.5,"s":8},{"p":"S","x":1976,"y":86.1,"s":8},{"p":"S","x":1976,"y":84.8,"s":27},{"p":"S","x":1976,"y":83.5,"s":27},{"p":"S","x":1976,"y":82.2,"s":24},{"p":"S","x":1976,"y":80.9,"s":24},{"p":"S","x":1976,"y":79.6,"s":27},{"p":"S","x":1976,"y":77.8,"s":20},{"p":"S","x":1976,"y":75.6,"s":27},{"p":"S","x":1976,"y":73.9,"s":24},{"p":"S","x":1976,"y":59.8,"s":27},
{"p":"S","x":1981,"y":100.4,"s":27},{"p":"S","x":1981,"y":91,"s":20},{"p":"S","x":1981,"y":90.1,"s":20},{"p":"S","x":1981,"y":88.8,"s":20},{"p":"S","x":1981,"y":87.5,"s":20},{"p":"S","x":1981,"y":86.1,"s":8},{"p":"S","x":1981,"y":83.1,"s":27},{"p":"S","x":1981,"y":80.9,"s":14},{"p":"S","x":1981,"y":79.6,"s":8},{"p":"S","x":1981,"y":77.8,"s":14},{"p":"S","x":1981,"y":76.5,"s":14},{"p":"S","x":1981,"y":75.2,"s":27},{"p":"S","x":1981,"y":73,"s":14},{"p":"S","x":1981,"y":70.8,"s":8},{"p":"S","x":1981,"y":65.4,"s":27},{"p":"S","x":1981,"y":51.9,"s":27},
{"p":"S","x":1986,"y":102.1,"s":27},{"p":"S","x":1986,"y":98.2,"s":20},{"p":"S","x":1986,"y":95.4,"s":20},{"p":"S","x":1986,"y":94,"s":27},{"p":"S","x":1986,"y":93.2,"s":27},{"p":"S","x":1986,"y":91.4,"s":8},{"p":"S","x":1986,"y":90.5,"s":27},{"p":"S","x":1986,"y":85.3,"s":8},{"p":"S","x":1986,"y":83.5,"s":8},{"p":"S","x":1986,"y":82.2,"s":14},{"p":"S","x":1986,"y":80.9,"s":24},{"p":"S","x":1986,"y":79.6,"s":14},{"p":"S","x":1986,"y":77.8,"s":8},{"p":"S","x":1986,"y":76.5,"s":14},{"p":"S","x":1986,"y":73.9,"s":14},{"p":"S","x":1986,"y":57.4,"s":27},
{"p":"S","x":1991,"y":109.1,"s":27},{"p":"S","x":1991,"y":103.2,"s":24},{"p":"S","x":1991,"y":101.1,"s":24},{"p":"S","x":1991,"y":98.6,"s":14},{"p":"S","x":1991,"y":96.7,"s":20},{"p":"S","x":1991,"y":94,"s":20},{"p":"S","x":1991,"y":92.3,"s":8},{"p":"S","x":1991,"y":89.2,"s":8},{"p":"S","x":1991,"y":87.9,"s":8},{"p":"S","x":1991,"y":84.4,"s":27},{"p":"S","x":1991,"y":82.6,"s":24},{"p":"S","x":1991,"y":81.3,"s":24},{"p":"S","x":1991,"y":80,"s":8},{"p":"S","x":1991,"y":78.7,"s":8},{"p":"S","x":1991,"y":70.8,"s":24},
{"p":"S","x":1996,"y":97.4,"s":20},{"p":"S","x":1996,"y":95.4,"s":20},{"p":"S","x":1996,"y":93.6,"s":14},{"p":"S","x":1996,"y":92.3,"s":20},{"p":"S","x":1996,"y":89.2,"s":14},{"p":"S","x":1996,"y":87.5,"s":20},{"p":"S","x":1996,"y":85.3,"s":14},{"p":"S","x":1996,"y":83.5,"s":20},{"p":"S","x":1996,"y":81.3,"s":20},{"p":"S","x":1996,"y":78.7,"s":14},{"p":"S","x":1996,"y":77.4,"s":8},{"p":"S","x":1996,"y":76.1,"s":8},{"p":"S","x":1996,"y":73.9,"s":14},{"p":"S","x":1996,"y":72.5,"s":20},{"p":"S","x":1996,"y":70.5,"s":20},{"p":"S","x":1996,"y":69.9,"s":20},{"p":"S","x":1996,"y":67.9,"s":8},{"p":"S","x":1996,"y":64.9,"s":14},
{"p":"S","x":2001,"y":93.6,"s":14},{"p":"S","x":2001,"y":91.4,"s":14},{"p":"S","x":2001,"y":86.1,"s":8},{"p":"S","x":2001,"y":83.5,"s":8},{"p":"S","x":2001,"y":82.2,"s":8},{"p":"S","x":2001,"y":80.9,"s":8},{"p":"S","x":2001,"y":79.1,"s":8},{"p":"S","x":2001,"y":77.4,"s":8},{"p":"S","x":2001,"y":75.6,"s":8},{"p":"S","x":2001,"y":73.9,"s":8},{"p":"S","x":2001,"y":72.1,"s":8},{"p":"S","x":2001,"y":70.8,"s":8},{"p":"S","x":2001,"y":69,"s":8},{"p":"S","x":2001,"y":67.7,"s":4},{"p":"S","x":2001,"y":66,"s":4},{"p":"S","x":2001,"y":62.5,"s":4},
{"p":"S","x":2006,"y":88.9,"s":8},{"p":"S","x":2006,"y":87.5,"s":8},{"p":"S","x":2006,"y":85.7,"s":8},{"p":"S","x":2006,"y":84.4,"s":4},{"p":"S","x":2006,"y":82.6,"s":8},{"p":"S","x":2006,"y":80.9,"s":8},{"p":"S","x":2006,"y":78.2,"s":4},{"p":"S","x":2006,"y":76.1,"s":8},{"p":"S","x":2006,"y":73.9,"s":8},{"p":"S","x":2006,"y":72.1,"s":8},{"p":"S","x":2006,"y":70.8,"s":4},{"p":"S","x":2006,"y":69.5,"s":4},{"p":"S","x":2006,"y":68.2,"s":4},{"p":"S","x":2006,"y":66.4,"s":4},{"p":"S","x":2006,"y":65.1,"s":4},{"p":"S","x":2006,"y":60.7,"s":14},{"p":"S","x":2006,"y":59.8,"s":14},
{"p":"S","x":2011,"y":88.3,"s":8},{"p":"S","x":2011,"y":86.1,"s":8},{"p":"S","x":2011,"y":84.4,"s":8},{"p":"S","x":2011,"y":82.6,"s":8},{"p":"S","x":2011,"y":80.4,"s":8},{"p":"S","x":2011,"y":78.2,"s":8},{"p":"S","x":2011,"y":75.6,"s":8},{"p":"S","x":2011,"y":73.9,"s":4},{"p":"S","x":2011,"y":72.1,"s":4},{"p":"S","x":2011,"y":70.8,"s":4},{"p":"S","x":2011,"y":69.5,"s":4},{"p":"S","x":2011,"y":68.2,"s":8},{"p":"S","x":2011,"y":66.8,"s":4},{"p":"S","x":2011,"y":65.1,"s":8},{"p":"S","x":2011,"y":63.3,"s":8},{"p":"S","x":2011,"y":62.3,"s":8},{"p":"S","x":2011,"y":59.4,"s":4},{"p":"S","x":2011,"y":57.2,"s":8},
{"p":"S","x":2016,"y":91.4,"s":8},{"p":"S","x":2016,"y":88.3,"s":4},{"p":"S","x":2016,"y":83.5,"s":4},{"p":"S","x":2016,"y":81.8,"s":4},{"p":"S","x":2016,"y":80.4,"s":4},{"p":"S","x":2016,"y":78.7,"s":8},{"p":"S","x":2016,"y":77.4,"s":4},{"p":"S","x":2016,"y":74.7,"s":4},{"p":"S","x":2016,"y":73.9,"s":4},{"p":"S","x":2016,"y":72.1,"s":4},{"p":"S","x":2016,"y":69.5,"s":4},{"p":"S","x":2016,"y":67.3,"s":4},{"p":"S","x":2016,"y":65.5,"s":8},{"p":"S","x":2016,"y":62.9,"s":4},{"p":"S","x":2016,"y":60.7,"s":8},{"p":"S","x":2016,"y":54.7,"s":4}
],
"fit":[
{"p":"B","x":1916,"y":44.8,"lo":42.2,"hi":47.4},{"p":"B","x":1921,"y":45.4,"lo":43.2,"hi":47.6},{"p":"B","x":1926,"y":46.2,"lo":44.3,"hi":48.1},{"p":"B","x":1931,"y":47.1,"lo":45.4,"hi":48.8},{"p":"B","x":1936,"y":48.2,"lo":46.6,"hi":49.8},{"p":"B","x":1941,"y":49.5,"lo":48.0,"hi":51.0},{"p":"B","x":1946,"y":51.0,"lo":49.5,"hi":52.5},{"p":"B","x":1951,"y":52.6,"lo":51.2,"hi":54.0},{"p":"B","x":1956,"y":54.3,"lo":52.9,"hi":55.7},{"p":"B","x":1961,"y":55.9,"lo":54.5,"hi":57.3},{"p":"B","x":1966,"y":57.4,"lo":56.0,"hi":58.8},{"p":"B","x":1971,"y":58.8,"lo":57.4,"hi":60.2},{"p":"B","x":1976,"y":60.1,"lo":58.7,"hi":61.5},{"p":"B","x":1981,"y":61.3,"lo":59.9,"hi":62.7},{"p":"B","x":1986,"y":62.4,"lo":61.0,"hi":63.8},{"p":"B","x":1991,"y":63.4,"lo":62.0,"hi":64.8},{"p":"B","x":1996,"y":64.4,"lo":62.9,"hi":65.9},{"p":"B","x":2001,"y":65.3,"lo":63.7,"hi":66.9},{"p":"B","x":2006,"y":66.2,"lo":64.4,"hi":68.0},{"p":"B","x":2011,"y":67.1,"lo":65.0,"hi":69.2},{"p":"B","x":2016,"y":67.9,"lo":65.4,"hi":70.4},
{"p":"N","x":1916,"y":47.4,"lo":44.2,"hi":50.6},{"p":"N","x":1921,"y":47.8,"lo":45.2,"hi":50.4},{"p":"N","x":1926,"y":49.2,"lo":47.0,"hi":51.4},{"p":"N","x":1931,"y":51.3,"lo":49.3,"hi":53.3},{"p":"N","x":1936,"y":53.6,"lo":51.7,"hi":55.5},{"p":"N","x":1941,"y":55.6,"lo":53.8,"hi":57.4},{"p":"N","x":1946,"y":57.2,"lo":55.4,"hi":59.0},{"p":"N","x":1951,"y":58.5,"lo":56.8,"hi":60.2},{"p":"N","x":1956,"y":59.7,"lo":58.0,"hi":61.4},{"p":"N","x":1961,"y":61.5,"lo":59.7,"hi":63.3},{"p":"N","x":1966,"y":64.6,"lo":62.7,"hi":66.5},{"p":"N","x":1971,"y":68.6,"lo":66.6,"hi":70.6},{"p":"N","x":1976,"y":72.9,"lo":70.9,"hi":74.9},{"p":"N","x":1981,"y":76.4,"lo":74.4,"hi":78.4},{"p":"N","x":1986,"y":78.4,"lo":76.5,"hi":80.3},{"p":"N","x":1991,"y":79.0,"lo":77.1,"hi":80.9},{"p":"N","x":1996,"y":78.9,"lo":77.0,"hi":80.8},{"p":"N","x":2001,"y":78.7,"lo":76.8,"hi":80.6},{"p":"N","x":2006,"y":78.9,"lo":76.9,"hi":80.9},{"p":"N","x":2011,"y":79.8,"lo":77.5,"hi":82.1},{"p":"N","x":2016,"y":81.3,"lo":78.4,"hi":84.2},
{"p":"S","x":1916,"y":49.8,"lo":47.2,"hi":52.4},{"p":"S","x":1921,"y":49.9,"lo":47.7,"hi":52.1},{"p":"S","x":1926,"y":50.4,"lo":48.4,"hi":52.4},{"p":"S","x":1931,"y":51.3,"lo":49.4,"hi":53.2},{"p":"S","x":1936,"y":52.8,"lo":50.9,"hi":54.7},{"p":"S","x":1941,"y":55.0,"lo":53.1,"hi":56.9},{"p":"S","x":1946,"y":57.9,"lo":55.9,"hi":59.9},{"p":"S","x":1951,"y":61.6,"lo":59.5,"hi":63.7},{"p":"S","x":1956,"y":66.0,"lo":63.8,"hi":68.2},{"p":"S","x":1961,"y":70.3,"lo":68.1,"hi":72.5},{"p":"S","x":1966,"y":74.1,"lo":71.9,"hi":76.3},{"p":"S","x":1971,"y":77.6,"lo":75.4,"hi":79.8},{"p":"S","x":1976,"y":80.6,"lo":78.4,"hi":82.8},{"p":"S","x":1981,"y":82.8,"lo":80.6,"hi":85.0},{"p":"S","x":1986,"y":84.0,"lo":81.8,"hi":86.2},{"p":"S","x":1991,"y":83.8,"lo":81.6,"hi":86.0},{"p":"S","x":1996,"y":81.5,"lo":79.3,"hi":83.7},{"p":"S","x":2001,"y":78.0,"lo":75.8,"hi":80.2},{"p":"S","x":2006,"y":74.9,"lo":72.6,"hi":77.2},{"p":"S","x":2011,"y":73.3,"lo":70.8,"hi":75.8},{"p":"S","x":2016,"y":72.9,"lo":70.0,"hi":75.8}
],
"seg":[{"p":"B","x":1991,"lo":15,"hi":110},{"p":"N","x":1991,"lo":15,"hi":110},{"p":"S","x":1991,"lo":15,"hi":110}]
},
"spacing":5,
"hconcat":[
{"spacing":0,"vconcat":[
 {"width":298,"height":27,"view":{"fill":"#D9D9D9","stroke":"#777777"},"data":{"values":[{"t":"European beech"}]},"mark":{"type":"text","fontSize":19,"color":"#1A1A1A","font":"Liberation Sans"},"encoding":{"text":{"field":"t","type":"nominal"}}},
 {"width":298,"height":400,
  "encoding":{"x":{"field":"x","type":"quantitative","scale":{"domain":[1909,2024],"nice":false,"zero":false},"axis":{"title":null,"values":[1912.5,1925,1937.5,1950,1962.5,1975,1987.5,2000,2012.5],"labelExpr":"datum.value % 25 == 0 ? datum.value + '' : ''","tickOpacity":{"condition":{"test":"datum.value % 25 == 0","value":1},"value":0},"gridWidth":{"condition":{"test":"datum.value % 25 == 0","value":1.1},"value":0.55}}}},
  "layer":[
  {"data":{"name":"pts"},"transform":[{"filter":"datum.p=='B'"}],"mark":{"type":"circle","size":40,"opacity":0.95},
   "encoding":{
    "y":{"field":"y","type":"quantitative","scale":{"domain":[10.25,114.75],"nice":false,"zero":false},"axis":{"title":"iWUE (µmol CO₂ mol⁻¹H₂O)","titlePadding":6,"labelPadding":2,"values":[15,30,45,60,75,90,105],"labelExpr":"datum.value % 30 == 0 ? datum.value + '' : ''","tickOpacity":{"condition":{"test":"datum.value % 30 == 0","value":1},"value":0},"gridWidth":{"condition":{"test":"datum.value % 30 == 0","value":1.1},"value":0.55}}},
    "color":{"field":"s","type":"quantitative","scale":{"domain":[3,8,11,14,20,24,28.2],"range":["#D9C9A9","#A9B2A2","#6F9FA0","#247D89","#3E4D5D","#553A48","#7C1E24"]},
     "legend":{"orient":"none","direction":"vertical","legendX":41,"legendY":33,"fillColor":"white","padding":7,"title":["S deposition","(kg/ha/year)"],"titleFontSize":14.5,"titleFontWeight":"normal","titleColor":"#000000","titleLineHeight":17,"titlePadding":8,"labelFontSize":13.5,"labelColor":"#000000","labelOffset":10,"gradientLength":101,"gradientThickness":20,"gradientStrokeWidth":0,"values":[10,20]}}
   }},
  {"data":{"name":"fit"},"transform":[{"filter":"datum.p=='B'"}],"mark":{"type":"area","color":"#3498DB","opacity":0.4,"interpolate":"monotone"},
   "encoding":{"y":{"field":"lo","type":"quantitative"},"y2":{"field":"hi"}}},
  {"data":{"name":"fit"},"transform":[{"filter":"datum.p=='B'"}],"mark":{"type":"line","color":"black","strokeWidth":2.2,"interpolate":"monotone"},
   "encoding":{"y":{"field":"y","type":"quantitative"}}},
  {"data":{"name":"seg"},"transform":[{"filter":"datum.p=='B'"}],"mark":{"type":"rule","color":"black","strokeWidth":2.5,"strokeDash":[8,7]},
   "encoding":{"y":{"field":"lo","type":"quantitative"},"y2":{"field":"hi"}}}
 ]}
]},
{"spacing":0,"vconcat":[
 {"width":298,"height":27,"view":{"fill":"#D9D9D9","stroke":"#777777"},"data":{"values":[{"t":"Norway spruce"}]},"mark":{"type":"text","fontSize":19,"color":"#1A1A1A","font":"Liberation Sans"},"encoding":{"text":{"field":"t","type":"nominal"}}},
 {"width":298,"height":400,
  "encoding":{"x":{"field":"x","type":"quantitative","scale":{"domain":[1909,2024],"nice":false,"zero":false},"axis":{"title":null,"values":[1912.5,1925,1937.5,1950,1962.5,1975,1987.5,2000,2012.5],"labelExpr":"datum.value % 25 == 0 ? datum.value + '' : ''","tickOpacity":{"condition":{"test":"datum.value % 25 == 0","value":1},"value":0},"gridWidth":{"condition":{"test":"datum.value % 25 == 0","value":1.1},"value":0.55}}}},
  "layer":[
  {"data":{"name":"pts"},"transform":[{"filter":"datum.p=='N'"}],"mark":{"type":"circle","size":40,"opacity":0.95},
   "encoding":{
    "y":{"field":"y","type":"quantitative","scale":{"domain":[10.25,114.75],"nice":false,"zero":false},"axis":{"title":null,"values":[15,30,45,60,75,90,105],"labels":false,"ticks":false,"gridWidth":{"condition":{"test":"datum.value % 30 == 0","value":1.1},"value":0.55}}},
    "color":{"field":"s","type":"quantitative","scale":{"domain":[3,8,11,14,20,24,28.2],"range":["#D9C9A9","#A9B2A2","#6F9FA0","#247D89","#3E4D5D","#553A48","#7C1E24"]},
     "legend":{"orient":"none","direction":"vertical","legendX":41,"legendY":33,"fillColor":"white","padding":7,"title":["S deposition","(kg/ha/year)"],"titleFontSize":14.5,"titleFontWeight":"normal","titleColor":"#000000","titleLineHeight":17,"titlePadding":8,"labelFontSize":13.5,"labelColor":"#000000","labelOffset":10,"gradientLength":101,"gradientThickness":20,"gradientStrokeWidth":0,"values":[10,20]}}
   }},
  {"data":{"name":"fit"},"transform":[{"filter":"datum.p=='N'"}],"mark":{"type":"area","color":"#3498DB","opacity":0.4,"interpolate":"monotone"},
   "encoding":{"y":{"field":"lo","type":"quantitative"},"y2":{"field":"hi"}}},
  {"data":{"name":"fit"},"transform":[{"filter":"datum.p=='N'"}],"mark":{"type":"line","color":"black","strokeWidth":2.2,"interpolate":"monotone"},
   "encoding":{"y":{"field":"y","type":"quantitative"}}},
  {"data":{"name":"seg"},"transform":[{"filter":"datum.p=='N'"}],"mark":{"type":"rule","color":"black","strokeWidth":2.5,"strokeDash":[8,7]},
   "encoding":{"y":{"field":"lo","type":"quantitative"},"y2":{"field":"hi"}}}
 ]}
]},
{"spacing":0,"vconcat":[
 {"width":285,"height":27,"view":{"fill":"#D9D9D9","stroke":"#777777"},"data":{"values":[{"t":"Silver fir"}]},"mark":{"type":"text","fontSize":19,"color":"#1A1A1A","font":"Liberation Sans","dx":6},"encoding":{"text":{"field":"t","type":"nominal"}}},
 {"width":285,"height":400,
  "encoding":{"x":{"field":"x","type":"quantitative","scale":{"domain":[1909,2019],"nice":false,"zero":false},"axis":{"title":null,"values":[1912.5,1925,1937.5,1950,1962.5,1975,1987.5,2000,2012.5],"labelExpr":"datum.value % 25 == 0 ? datum.value + '' : ''","tickOpacity":{"condition":{"test":"datum.value % 25 == 0","value":1},"value":0},"gridWidth":{"condition":{"test":"datum.value % 25 == 0","value":1.1},"value":0.55}}}},
  "layer":[
  {"data":{"name":"pts"},"transform":[{"filter":"datum.p=='S'"}],"mark":{"type":"circle","size":40,"opacity":0.95},
   "encoding":{
    "y":{"field":"y","type":"quantitative","scale":{"domain":[10.25,114.75],"nice":false,"zero":false},"axis":{"title":null,"values":[15,30,45,60,75,90,105],"labels":false,"ticks":false,"gridWidth":{"condition":{"test":"datum.value % 30 == 0","value":1.1},"value":0.55}}},
    "color":{"field":"s","type":"quantitative","scale":{"domain":[3,8,11,14,20,24,28.2],"range":["#D9C9A9","#A9B2A2","#6F9FA0","#247D89","#3E4D5D","#553A48","#7C1E24"]},
     "legend":{"orient":"none","direction":"vertical","legendX":41,"legendY":33,"fillColor":"white","padding":7,"title":["S deposition","(kg/ha/year)"],"titleFontSize":14.5,"titleFontWeight":"normal","titleColor":"#000000","titleLineHeight":17,"titlePadding":8,"labelFontSize":13.5,"labelColor":"#000000","labelOffset":10,"gradientLength":101,"gradientThickness":20,"gradientStrokeWidth":0,"values":[10,20]}}
   }},
  {"data":{"name":"fit"},"transform":[{"filter":"datum.p=='S'"}],"mark":{"type":"area","color":"#3498DB","opacity":0.4,"interpolate":"monotone"},
   "encoding":{"y":{"field":"lo","type":"quantitative"},"y2":{"field":"hi"}}},
  {"data":{"name":"fit"},"transform":[{"filter":"datum.p=='S'"}],"mark":{"type":"line","color":"black","strokeWidth":2.2,"interpolate":"monotone"},
   "encoding":{"y":{"field":"y","type":"quantitative"}}},
  {"data":{"name":"seg"},"transform":[{"filter":"datum.p=='S'"}],"mark":{"type":"rule","color":"black","strokeWidth":2.5,"strokeDash":[8,7]},
   "encoding":{"y":{"field":"lo","type":"quantitative"},"y2":{"field":"hi"}}}
 ]}
]}
]
}
